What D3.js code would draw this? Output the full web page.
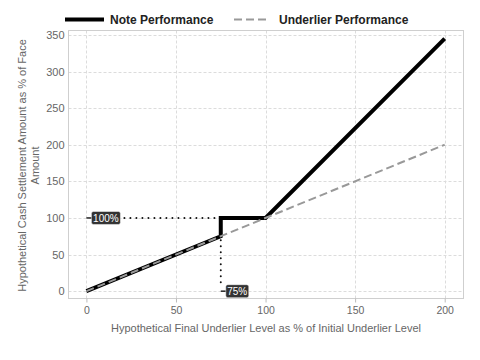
<!DOCTYPE html>
<html><head><meta charset="utf-8">
<script src="https://cdn.jsdelivr.net/npm/d3@7"></script>
<style>body{margin:0;background:#fff;}svg{font-family:"Liberation Sans",Arial,sans-serif;}</style>
</head><body><svg id="c" width="480" height="360"></svg>
<script>
const noteX = [0, 75, 75, 100, 200];
const noteY = [0, 75, 100, 100, 345];
const underX = [0, 200];
const underY = [0, 200];
const xTicks = [0, 50, 100, 150, 200];
const yTicks = [0, 50, 100, 150, 200, 250, 300, 350];
const seriesNames = ["Note Performance", "Underlier Performance"];
const barrierLevel = 75, capLevel = 100;
const labelCap = "100%", labelBarrier = "75%";

const svg = d3.select("#c");
const L = 68.5, R = 463.5, T = 30.5, B = 298.5;
const x = d3.scaleLinear().domain([-10, 210.5]).range([L, R]);
const y = d3.scaleLinear().domain([-10, 356]).range([B, T]);

// grid
const g = svg.append("g");
g.selectAll(".gx").data(xTicks).join("line")
  .attr("x1", d => Math.round(x(d)) + 0.5).attr("x2", d => Math.round(x(d)) + 0.5)
  .attr("y1", T).attr("y2", B).attr("stroke", "#dcdcdc").attr("stroke-dasharray", "3,2");
g.selectAll(".gy").data(yTicks).join("line")
  .attr("y1", d => Math.round(y(d)) + 0.5).attr("y2", d => Math.round(y(d)) + 0.5)
  .attr("x1", L).attr("x2", R).attr("stroke", "#dcdcdc").attr("stroke-dasharray", "3,2");
svg.append("rect").attr("x", L).attr("y", T).attr("width", R - L).attr("height", B - T)
  .attr("fill", "none").attr("stroke", "#cfcfcf");

// axes
const xa = svg.append("g").attr("transform", `translate(0,${B})`)
  .call(d3.axisBottom(x).tickValues(xTicks).tickSize(4).tickPadding(4));
xa.select(".domain").remove();
xa.selectAll("line").attr("stroke", "#bbb");
xa.selectAll("text").attr("fill", "#666").style("font-size", "10.5px");
const ya = svg.append("g").attr("transform", `translate(${L},0)`)
  .call(d3.axisLeft(y).tickValues(yTicks).tickSize(0).tickPadding(4));
ya.select(".domain").remove();
ya.selectAll("text").attr("fill", "#666").style("font-size", "11px");

svg.append("text").attr("x", (L + R) / 2).attr("y", 332).attr("text-anchor", "middle")
  .attr("fill", "#666").style("font-size", "11px")
  .text("Hypothetical Final Underlier Level as % of Initial Underlier Level");
const yt = svg.append("text").attr("transform", `translate(26,${(T + B) / 2 + 1}) rotate(-90)`)
  .attr("text-anchor", "middle").attr("fill", "#666").style("font-size", "11px");
yt.append("tspan").attr("x", 0).attr("dy", 0).text("Hypothetical Cash Settlement Amount as % of Face");
yt.append("tspan").attr("x", 0).attr("dy", 13).text("Amount");

// annotation dotted lines
svg.append("line").attr("x1", x(0) + 38).attr("x2", x(barrierLevel)).attr("y1", y(capLevel)).attr("y2", y(capLevel))
  .attr("stroke", "#111").attr("stroke-width", 2).attr("stroke-dasharray", "0,6").attr("stroke-linecap", "round");
svg.append("line").attr("x1", x(barrierLevel)).attr("x2", x(barrierLevel)).attr("y1", y(barrierLevel) + 4).attr("y2", y(0) - 7)
  .attr("stroke", "#111").attr("stroke-width", 2).attr("stroke-dasharray", "0,6").attr("stroke-linecap", "round");

// lines
const line = d3.line().x(d => x(d[0])).y(d => y(d[1]));
svg.append("path").datum(noteX.map((v, i) => [v, noteY[i]])).attr("d", line)
  .attr("fill", "none").attr("stroke", "#000").attr("stroke-width", 4).attr("stroke-linejoin", "miter");
svg.append("path").datum(underX.map((v, i) => [v, underY[i]])).attr("d", line)
  .attr("fill", "none").attr("stroke", "#999").attr("stroke-width", 2).attr("stroke-dasharray", "8,4");

// labels
function label(px, py, txt, w) {
  svg.append("line").attr("x1", px).attr("x2", px + 6).attr("y1", py).attr("y2", py).attr("stroke", "#222").attr("stroke-width", 1.5);
  svg.append("rect").attr("x", px + 5).attr("y", py - 6.5).attr("width", w).attr("height", 13).attr("rx", 2)
    .attr("fill", "#333").attr("stroke", "#fff").attr("stroke-width", 0.5);
  svg.append("text").attr("x", px + 5 + w / 2).attr("y", py + 4).attr("text-anchor", "middle")
    .attr("fill", "#fff").style("font-size", "10px").text(txt);
}
label(x(0), y(capLevel), labelCap, 29);
label(x(barrierLevel), y(0), labelBarrier, 23);

// legend
const lg = svg.append("g");
lg.append("line").attr("x1", 65).attr("x2", 104).attr("y1", 19.5).attr("y2", 19.5).attr("stroke", "#000").attr("stroke-width", 4);
lg.append("text").attr("x", 110).attr("y", 24).attr("fill", "#222").style("font-size", "12px").style("font-weight", "bold").text(seriesNames[0]);
lg.append("line").attr("x1", 234).attr("x2", 270).attr("y1", 19.5).attr("y2", 19.5).attr("stroke", "#999").attr("stroke-width", 2).attr("stroke-dasharray", "8,4");
lg.append("text").attr("x", 279).attr("y", 24).attr("fill", "#222").style("font-size", "12px").style("font-weight", "bold").text(seriesNames[1]);
</script></body></html>
